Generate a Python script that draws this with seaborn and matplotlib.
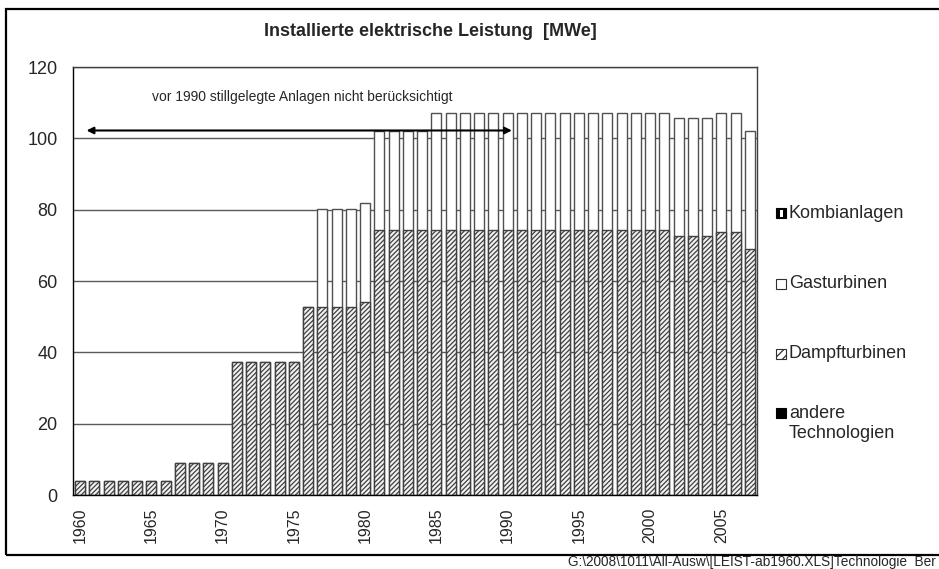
import matplotlib
matplotlib.use("Agg")
import matplotlib.pyplot as plt
import matplotlib.patches as mpatches
import seaborn as sns
import pandas as pd

# Daten, MWe
jahre = list(range(1960, 2008))
dampfturbinen = [3.9] * 7 + [9.0] * 4 + [37.2] * 5 + [52.7] * 4 + [54.1] \
    + [74.2] * 21 + [72.7] * 3 + [73.8] * 2 + [68.9]
gasturbinen_summe = [3.9] * 7 + [9.0] * 4 + [37.2] * 5 + [52.7] + [80.2] * 3 + [81.8] \
    + [102.0] * 4 + [107.2] * 17 + [105.7] * 3 + [107.0] * 2 + [102.0]
gasturbinen = [g - d for g, d in zip(gasturbinen_summe, dampfturbinen)]
kombianlagen = [0.0] * len(jahre)
andere = [0.0] * len(jahre)

df = pd.DataFrame({"Jahr": [str(j) for j in jahre],
                   "Dampf": dampfturbinen,
                   "Gas": gasturbinen})
df["Summe"] = df["Dampf"] + df["Gas"]

sns.set_style("white")
plt.rcParams["font.family"] = ["Liberation Sans", "DejaVu Sans"]
plt.rcParams["hatch.linewidth"] = 0.9

fig = plt.figure(figsize=(9.39, 5.69), dpi=100)
ax = fig.add_axes([73 / 939, 74 / 569, 684 / 939, 428 / 569])

# gestapelte Balken: erst Summe (Gasturbinen weiss), dann Dampfturbinen schraffiert
sns.barplot(data=df, x="Jahr", y="Summe", color="white", saturation=1,
            edgecolor="#505050", linewidth=1, width=0.7, ax=ax)
sns.barplot(data=df, x="Jahr", y="Dampf", color="#f2f2f2", saturation=1,
            edgecolor="#404040", linewidth=1, width=0.7, hatch="///////", ax=ax)

ax.set_ylim(0, 120)
ax.set_xlim(-0.5, len(jahre) - 0.5)
ax.set_yticks(range(0, 121, 20))
ax.set_yticklabels([str(v) for v in range(0, 121, 20)], fontsize=13)
ax.set_xticks([i for i, j in enumerate(jahre) if j % 5 == 0])
ax.set_xticklabels([str(j) for j in jahre if j % 5 == 0], rotation=90, fontsize=11.5)
ax.tick_params(axis="y", length=0, pad=11)
ax.tick_params(axis="x", length=0, pad=9)
ax.set_xlabel("")
ax.set_ylabel("")
ax.yaxis.grid(True, color="#5a5a5a", linewidth=1)
ax.set_axisbelow(True)
for s in ax.spines.values():
    s.set_visible(True)
    s.set_color("#404040")
    s.set_linewidth(1)
ax.spines["left"].set_color("black")
ax.spines["bottom"].set_color("black")

# Pfeil und Hinweis
ax.annotate("", xy=(0.45, 102.2), xytext=(30.3, 102.2),
            arrowprops=dict(arrowstyle="<|-|>", color="black", lw=1.5,
                            mutation_scale=10, shrinkA=0, shrinkB=0))
ax.text(15.6, 111.6, "vor 1990 stillgelegte Anlagen nicht berücksichtigt",
        ha="center", va="center", fontsize=10)

fig.text(430 / 939, 1 - 31 / 569, "Installierte elektrische Leistung  [MWe]",
         ha="center", va="center", fontsize=13, fontweight="bold")

# Legende (Symbole + Texte)
W, H = 939, 569
labels = ["Kombianlagen", "Gasturbinen", "Dampfturbinen", "andere"]
zeilen_y = [213, 284, 354, 413]
stile = [
    dict(facecolor="black", edgecolor="black"),
    dict(facecolor="white", edgecolor="#303030"),
    dict(facecolor="white", edgecolor="#303030", hatch="////"),
    dict(facecolor="black", edgecolor="black"),
]
for lab, yy, st in zip(labels, zeilen_y, stile):
    fig.add_artist(mpatches.Rectangle((776 / W, 1 - (yy + 5) / H), 10 / W, 10 / H,
                                      transform=fig.transFigure, linewidth=0.8, **st))
    fig.text(789 / W, 1 - yy / H, lab, ha="left", va="center", fontsize=13)
# weisser Mittelstreifen im Kombianlagen-Symbol
fig.add_artist(mpatches.Rectangle((779.5 / W, 1 - (213 + 3.5) / H), 3 / W, 7 / H,
                                  transform=fig.transFigure, facecolor="white",
                                  edgecolor="none"))
fig.text(789 / W, 1 - 433 / H, "Technologien", ha="left", va="center", fontsize=13)

# Rahmen um das Diagramm
fig.add_artist(mpatches.Rectangle((6 / W, 14 / H), 940 / W, 546 / H,
                                  transform=fig.transFigure, fill=False,
                                  edgecolor="black", linewidth=1.6))

fig.text(568 / W, 1 - 562 / H,
         r"G:\2008\1011\All-Ausw\[LEIST-ab1960.XLS]Technologie  Ber",
         ha="left", va="center", fontsize=9.8)

fig.savefig("out.png", dpi=100)
